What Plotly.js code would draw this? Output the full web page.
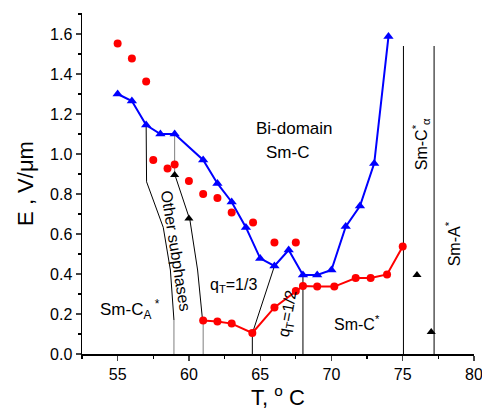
<!DOCTYPE html>
<html>
<head>
<meta charset="utf-8">
<script src="https://cdn.plot.ly/plotly-3.0.1.min.js"></script>
<style>html,body{margin:0;padding:0;background:#fff}#chart{width:482px;height:410px}</style>
</head>
<body>
<div id="chart"></div>
<script>
// Blue triangles (connected): E vs T
var blueT = [55, 56, 57, 58, 59, 61, 62, 63, 64, 65, 66, 67, 68, 69, 70, 71, 72, 73, 74];
var blueE = [1.30, 1.265, 1.145, 1.10, 1.10, 0.97, 0.853, 0.76, 0.633, 0.478, 0.44, 0.52, 0.395, 0.395, 0.42, 0.637, 0.74, 0.953, 1.587];

// Red dots (unconnected, upper set)
var redDotT = [55, 56, 57, 57.5, 58.5, 59, 60, 61, 62, 63, 64.5, 66, 67.5];
var redDotE = [1.553, 1.477, 1.363, 0.97, 0.928, 0.948, 0.865, 0.80, 0.78, 0.708, 0.657, 0.558, 0.557];

// Red dots (connected, lower set)
var redLineT = [61, 62, 63, 64.45, 66, 67.5, 68, 69, 70.2, 71.7, 72.75, 73.9, 75.0];
var redLineE = [0.167, 0.162, 0.152, 0.105, 0.233, 0.315, 0.34, 0.337, 0.337, 0.38, 0.38, 0.398, 0.537];

// Black triangles
var blackT = [59, 60, 76.0, 77.0];
var blackE = [0.895, 0.678, 0.395, 0.11];

// Phase boundaries (black)
var bound1T = [57, 57.03, 58.2, 58.7, 58.95];
var bound1E = [1.145, 0.861, 0.633, 0.42, 0.17];
var bound2T = [59.02, 60.07, 60.61, 60.96];
var bound2E = [0.895, 0.67, 0.42, 0.167];
var bound3T = [66, 64.45, 64.45];
var bound3E = [0.44, 0.103, 0];
var bound4T = [68, 68];
var bound4E = [0.395, 0];
var bound5T = [75.05, 75.05];
var bound5E = [1.54, 0];
var bound6T = [77.2, 77.2];
var bound6E = [1.54, 0];
// Phase boundaries (grey)
var grey1T = [59, 59];
var grey1E = [1.10, 0.895];
var grey2T = [58.95, 58.95];
var grey2E = [0.17, 0];
var grey3T = [61, 61];
var grey3E = [0.167, 0];

var FONT = "Arial, 'Liberation Sans', sans-serif";

function ln(x, y, color) {
  return {x: x, y: y, mode: 'lines', type: 'scatter', line: {color: color, width: 1}, hoverinfo: 'skip', showlegend: false};
}

var traces = [
  ln(bound1T, bound1E, '#000'),
  ln(bound2T, bound2E, '#000'),
  ln(bound3T, bound3E, '#000'),
  ln(bound4T, bound4E, '#000'),
  ln(bound5T, bound5E, '#000'),
  ln(bound6T, bound6E, '#000'),
  ln(grey1T, grey1E, '#7f7f7f'),
  ln(grey2T, grey2E, '#7f7f7f'),
  ln(grey3T, grey3E, '#7f7f7f'),
  {x: blueT, y: blueE, mode: 'lines+markers', type: 'scatter', showlegend: false,
   line: {color: '#0000ff', width: 2}, marker: {symbol: 'triangle-up', size: 9, color: '#0000ff'}},
  {x: redLineT, y: redLineE, mode: 'lines+markers', type: 'scatter', showlegend: false,
   line: {color: '#ff0000', width: 2}, marker: {symbol: 'circle', size: 8, color: '#ff0000'}},
  {x: redDotT, y: redDotE, mode: 'markers', type: 'scatter', showlegend: false,
   marker: {symbol: 'circle', size: 8, color: '#ff0000'}},
  {x: blackT, y: blackE, mode: 'markers', type: 'scatter', showlegend: false,
   marker: {symbol: 'triangle-up', size: 8, color: '#000000'}}
];

function ann(text, x, y, opts) {
  var a = {text: text, x: x, y: y, xref: 'x', yref: 'y', showarrow: false,
           font: {family: FONT, size: 17, color: '#000'}, xanchor: 'center', yanchor: 'middle'};
  for (var k in opts) a[k] = opts[k];
  return a;
}

var layout = {
  width: 482, height: 410,
  margin: {l: 82, r: 8, t: 13, b: 56},
  paper_bgcolor: '#fff', plot_bgcolor: '#fff',
  font: {family: FONT, size: 16, color: '#000'},
  showlegend: false,
  xaxis: {
    range: [52.5, 80], dtick: 5, tick0: 55, ticks: 'outside', ticklen: 5, tickwidth: 1.2,
    showline: true, linecolor: '#000', linewidth: 1.5, showgrid: false, zeroline: false, mirror: false,
    ticklabeloverflow: 'allow',
    tickfont: {family: FONT, size: 16, color: '#000'},
    minor: {dtick: 2.5, ticks: 'outside', ticklen: 3, tickwidth: 1.2, tickcolor: '#000', showgrid: false},
    title: {text: 'T, <sup>o</sup> C', font: {family: FONT, size: 22, color: '#000'}, standoff: 8}
  },
  yaxis: {
    range: [0, 1.705], dtick: 0.2, tick0: 0, ticks: 'outside', ticklen: 5, tickwidth: 1.2,
    showline: true, linecolor: '#000', linewidth: 1.5, showgrid: false, zeroline: false, mirror: false,
    tickformat: '.1f', tickfont: {family: FONT, size: 16, color: '#000'},
    minor: {dtick: 0.1, ticks: 'outside', ticklen: 3, tickwidth: 1.2, tickcolor: '#000', showgrid: false},
    title: {text: 'E , V/\u03bcm', font: {family: FONT, size: 22, color: '#000'}, standoff: 10}
  },
  annotations: [
    ann('Bi-domain', 67.44, 1.13),
    ann('Sm-C', 66.9, 1.01),
    ann('Sm-C<sub>A</sub><sup> *</sup>', 55.9, 0.225),
    ann('Other subphases', 59.07, 0.517, {textangle: 81, font: {family: FONT, size: 16, color: '#000'}}),
    ann('q<sub>T</sub>=1/3', 63.1, 0.345, {font: {family: FONT, size: 16, color: '#000'}}),
    ann('q<sub>T</sub>=1/2', 66.95, 0.2035, {textangle: -80, font: {family: FONT, size: 16, color: '#000'}}),
    ann('Sm-C<sup>*</sup>', 71.8, 0.153, {font: {family: FONT, size: 16, color: '#000'}}),
    ann('Sm-C<sup>*</sup><sub>\u03b1</sub>', 76.3, 1.05, {textangle: -90, font: {family: FONT, size: 16, color: '#000'}}),
    ann('Sm-A<sup>*</sup>', 78.55, 0.55, {textangle: -90, font: {family: FONT, size: 16, color: '#000'}})
  ]
};

Plotly.newPlot('chart', traces, layout, {displayModeBar: false, staticPlot: true});
</script>
</body>
</html>
